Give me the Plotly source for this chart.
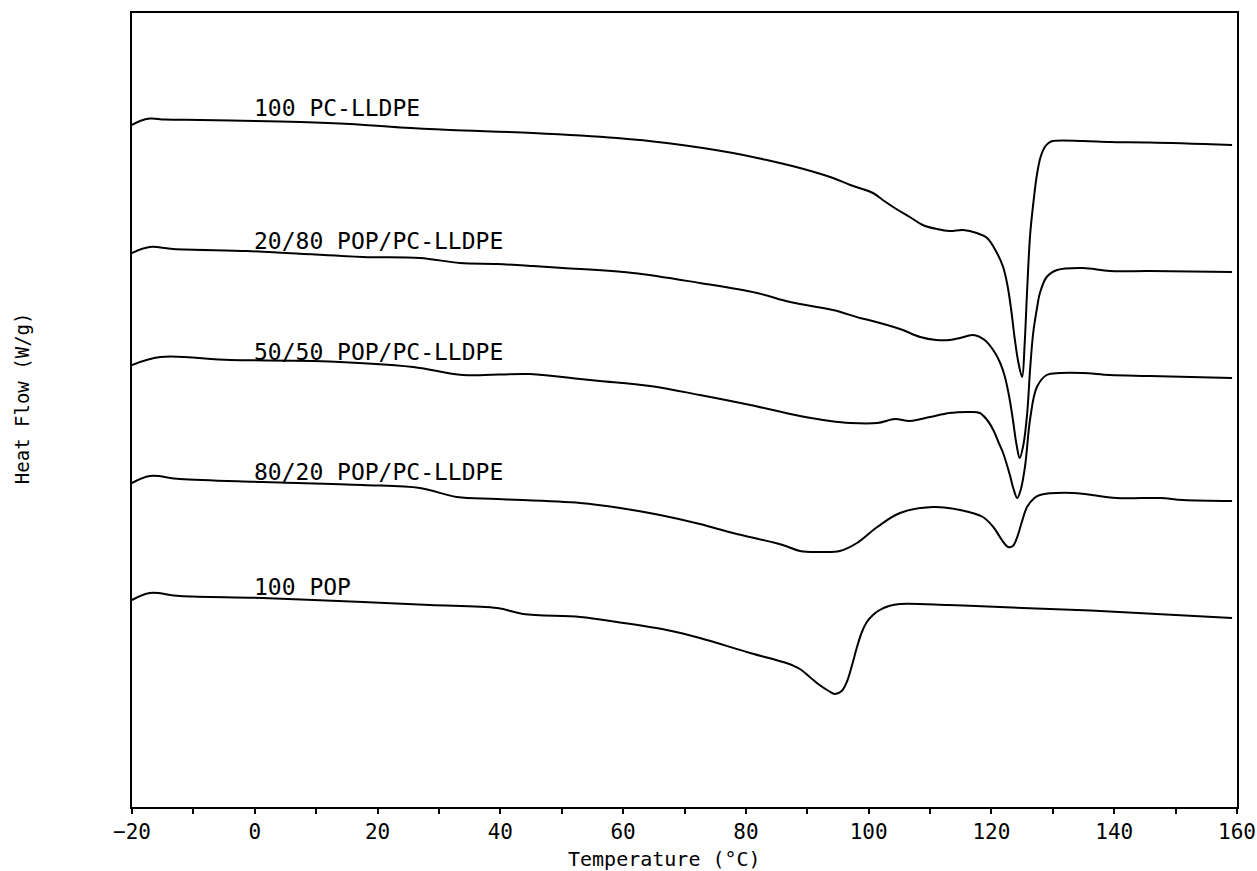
import plotly.graph_objects as go

# ---- data (temperature in °C, heat flow in arbitrary W/g units, offset curves) ----
t_pc = [-20, -18.7, -17.1, -14.6, -8.9, 0, 7.4, 15.5, 23.7, 31.8, 45.3, 59, 67.1, 77.9, 83.4,
        88.8, 94.2, 97.0, 100.7, 102.3, 104.5, 106.7, 108.8, 111.1, 113.2, 115.4, 117.6, 119.3,
        120.9, 121.9, 122.6, 123.2, 123.8, 124.4, 125.0, 125.4, 125.8, 126.3, 126.9, 127.4,
        128.0, 128.6, 129.3, 130.0, 134.9, 139.3, 145.8, 159.2]
hf_pc = [6.82, 6.86, 6.885, 6.875, 6.87, 6.86, 6.85, 6.83, 6.795, 6.77, 6.74, 6.69, 6.64, 6.54,
         6.47, 6.39, 6.29, 6.22, 6.14, 6.07, 5.98, 5.90, 5.82, 5.78, 5.76, 5.77, 5.74, 5.69,
         5.54, 5.40, 5.22, 4.98, 4.68, 4.44, 4.30, 4.62, 5.15, 5.72, 6.08, 6.32, 6.50, 6.59,
         6.64, 6.66, 6.66, 6.65, 6.645, 6.62]

t_2080 = [-20, -17.1, -13.3, -1.3, 5.2, 17.6, 26.9, 33.4, 39.5, 45.3, 50.2, 61.6, 72.5, 81.8,
          87.2, 94.2, 98.6, 100.0, 105.1, 108.4, 111.0, 113.2, 114.9, 117.0, 118.9, 120.6,
          121.5, 122.2, 122.9, 123.5, 124.1, 124.6, 125.2, 125.8, 126.3, 126.8, 127.4, 127.9,
          129.0, 130.7, 134.9, 139.3, 145.8, 159.2]
hf_2080 = [5.54, 5.60, 5.58, 5.56, 5.54, 5.50, 5.49, 5.44, 5.43, 5.41, 5.39, 5.34, 5.24, 5.14,
           5.05, 4.97, 4.89, 4.87, 4.78, 4.70, 4.67, 4.67, 4.69, 4.72, 4.67, 4.54, 4.43, 4.30,
           4.10, 3.87, 3.62, 3.49, 3.62, 3.92, 4.38, 4.74, 4.98, 5.14, 5.30, 5.37, 5.39, 5.36,
           5.36, 5.35]

t_5050 = [-20, -15.4, -4.0, 9.5, 25.8, 33.9, 44.8, 53.0, 56.2, 64.4, 72.5, 80.7, 88.8, 93.7,
          97.0, 101.4, 104.3, 106.7, 110.0, 113.2, 116.5, 118.1, 119.3, 120.3, 121.2, 121.9,
          123.0, 123.6, 124.2, 124.8, 125.5, 126.3, 127.4, 129.0, 131.2, 134.9, 139.3, 145.8,
          159.2]
hf_5050 = [4.42, 4.50, 4.47, 4.46, 4.40, 4.32, 4.33, 4.28, 4.26, 4.21, 4.12, 4.02, 3.91, 3.86,
           3.84, 3.84, 3.88, 3.86, 3.90, 3.94, 3.95, 3.94, 3.87, 3.77, 3.64, 3.54, 3.32, 3.18,
           3.09, 3.18, 3.42, 3.88, 4.20, 4.32, 4.34, 4.34, 4.32, 4.31, 4.29]

t_8020 = [-20, -17.1, -12.2, 1.3, 17.6, 26.9, 32.9, 39.5, 53.0, 59.5, 66.0, 72.5, 77.9, 86.0,
          88.8, 92.0, 95.3, 98.1, 101.4, 105.1, 110.5, 114.9, 118.6, 120.3, 121.7, 122.7,
          123.5, 124.2, 125.0, 125.8, 127.0, 127.9, 133.3, 140.4, 147.5, 151.2, 159.2]
hf_8020 = [3.24, 3.31, 3.28, 3.25, 3.22, 3.19, 3.10, 3.08, 3.04, 2.99, 2.92, 2.83, 2.74, 2.62,
           2.56, 2.55, 2.56, 2.64, 2.80, 2.94, 3.00, 2.97, 2.90, 2.80, 2.67, 2.60, 2.61, 2.70,
           2.86, 3.00, 3.09, 3.12, 3.14, 3.09, 3.09, 3.07, 3.06]

t_pop = [-20, -17.1, -12.2, 1.3, 17.6, 28.5, 39.5, 43.7, 53.0, 59.0, 67.1, 72.5, 80.7, 86.6,
         88.8, 90.4, 92.0, 93.5, 94.5, 95.6, 96.5, 97.3, 98.1, 98.9, 99.7, 100.7, 101.8, 103.3,
         105.1, 113.0, 121.4, 137.7, 159.2]
hf_pop = [2.07, 2.14, 2.11, 2.09, 2.05, 2.02, 1.99, 1.93, 1.90, 1.85, 1.77, 1.69, 1.54, 1.44,
          1.38, 1.30, 1.22, 1.16, 1.13, 1.16, 1.26, 1.42, 1.60, 1.75, 1.85, 1.92, 1.97, 2.01,
          2.03, 2.02, 2.00, 1.96, 1.89]

labels = ["100 PC-LLDPE", "20/80 POP/PC-LLDPE", "50/50 POP/PC-LLDPE", "80/20 POP/PC-LLDPE", "100 POP"]
label_t = [0, 0, 0, 0, 0]
label_hf = [6.99, 5.66, 4.55, 3.35, 2.20]

series = [(t_pc, hf_pc), (t_2080, hf_2080), (t_5050, hf_5050), (t_8020, hf_8020), (t_pop, hf_pop)]

FONT = "DejaVu Sans Mono"

fig = go.Figure()
for (tx, hy), name in zip(series, labels):
    fig.add_trace(go.Scatter(x=tx, y=hy, mode="lines", name=name,
                             line=dict(color="black", width=2, shape="spline", smoothing=1.0),
                             showlegend=False, hoverinfo="skip"))

for name, lx, ly in zip(labels, label_t, label_hf):
    fig.add_annotation(x=lx, y=ly, xref="x", yref="y", text=name, showarrow=False,
                       xanchor="left", yanchor="middle", xshift=-3,
                       font=dict(family=FONT, size=23, color="black"))

fig.add_annotation(x=0.482, y=-0.066, xref="paper", yref="paper", text="Temperature (°C)",
                   showarrow=False, xanchor="center", yanchor="middle",
                   font=dict(family=FONT, size=20, color="black"))
fig.add_annotation(x=-0.0995, y=0.515, xref="paper", yref="paper", text="Heat Flow (W/g)",
                   showarrow=False, xanchor="center", yanchor="middle", textangle=-90,
                   font=dict(family=FONT, size=19, color="black"))

fig.update_layout(
    width=1257, height=871,
    margin=dict(l=132, r=20, t=13, b=64, autoexpand=False),
    paper_bgcolor="white", plot_bgcolor="white",
    font=dict(family=FONT, size=21, color="black"),
    xaxis=dict(range=[-20, 160], tickmode="linear", tick0=-20, dtick=20,
               ticks="outside", ticklen=5, tickwidth=2, tickcolor="black",
               minor=dict(dtick=10, ticks="outside", ticklen=5, tickwidth=2, tickcolor="black"),
               showline=True, linecolor="black", linewidth=2, mirror=True,
               showgrid=False, zeroline=False, ticklabelstandoff=0, automargin=False,
               tickfont=dict(family=FONT, size=21, color="black")),
    yaxis=dict(range=[0, 7.94], showticklabels=False, ticks="",
               showline=True, linecolor="black", linewidth=2, mirror=True,
               showgrid=False, zeroline=False, automargin=False),
)

fig.write_html("out.html")
